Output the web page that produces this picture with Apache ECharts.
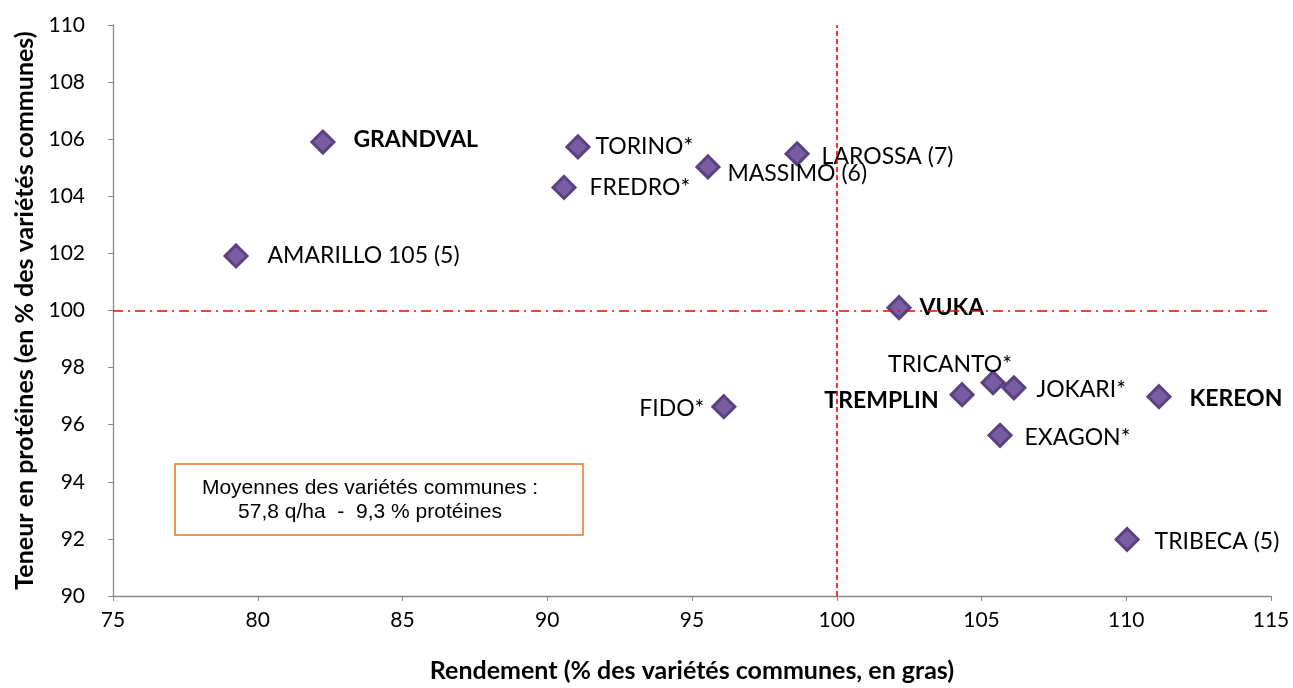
<!DOCTYPE html>
<html><head><meta charset="utf-8">
<script src="https://cdn.jsdelivr.net/npm/echarts@6/dist/echarts.min.js"></script>
<style>html,body{margin:0;padding:0;background:#fff}#c{width:1293px;height:688px}</style>
</head><body><div id="c"></div>
<script>
const names = ['GRANDVAL','TORINO*','MASSIMO (6)','LAROSSA (7)','FREDRO*','AMARILLO 105 (5)','VUKA','TRICANTO*','JOKARI*','TREMPLIN','KEREON','FIDO*','EXAGON*','TRIBECA (5)'];
const rendement = [82.25,91.06,95.55,98.63,90.58,79.25,102.15,105.4,106.12,104.33,111.13,96.1,105.64,110.03];
const proteines = [105.9,105.73,105.03,105.49,104.31,101.91,100.1,97.47,97.29,97.05,96.98,96.63,95.63,91.98];
const boldNames = ['GRANDVAL','VUKA','TREMPLIN','KEREON'];
const xTicks = [75,80,85,90,95,100,105,110,115];
const yTicks = [90,92,94,96,98,100,102,104,106,108,110];
const noteLines = ['Moyennes des variétés communes :','57,8 q/ha  -  9,3 % protéines'];

// label placement (layout only)
const labelLayout = {
  'GRANDVAL': {position:'right', distance:18, offset:[0,-2]},
  'TORINO*': {position:'right', distance:5, offset:[0,0]},
  'MASSIMO (6)': {position:'right', distance:7, offset:[0,7]},
  'LAROSSA (7)': {position:'right', distance:12, offset:[0,3]},
  'FREDRO*': {position:'right', distance:13, offset:[0,0]},
  'AMARILLO 105 (5)': {position:'right', distance:19, offset:[0,0]},
  'VUKA': {position:'right', distance:8, offset:[0,0]},
  'TRICANTO*': {position:'top', distance:8, offset:[-43,14]},
  'JOKARI*': {position:'right', distance:10, offset:[0,2]},
  'TREMPLIN': {position:'left', distance:11, offset:[0,6]},
  'KEREON': {position:'right', distance:18, offset:[0,2]},
  'FIDO*': {position:'left', distance:7, offset:[0,2]},
  'EXAGON*': {position:'right', distance:12, offset:[0,2]},
  'TRIBECA (5)': {position:'right', distance:15, offset:[0,2]}
};

const data = names.map((n,i)=>{
  const L = labelLayout[n];
  return {
    name:n, value:[rendement[i], proteines[i]],
    label:{show:true, formatter:n, position:L.position, distance:L.distance, offset:L.offset,
      color:'#000', fontFamily:'Lato', fontSize:23,
      fontWeight: boldNames.includes(n)?'bold':'normal'}
  };
});

const chart = echarts.init(document.getElementById('c'));
const FONT = 'Lato';
chart.setOption({
  animation:false,
  grid:{left:113, right:22, top:25, bottom:87},
  xAxis:{type:'value', min:xTicks[0], max:xTicks[xTicks.length-1], interval:5,
    name:'Rendement (% des variétés communes, en gras)', nameLocation:'middle', nameGap:62,
    nameTextStyle:{fontFamily:FONT, fontWeight:'bold', fontSize:25, color:'#000'},
    axisLine:{onZero:false, lineStyle:{color:'#888', width:1.3}},
    axisTick:{show:true, length:5, lineStyle:{color:'#888'}},
    axisLabel:{fontFamily:FONT, fontSize:21, color:'#000', margin:14},
    splitLine:{show:false}},
  yAxis:{type:'value', min:yTicks[0], max:yTicks[yTicks.length-1], interval:2,
    name:'Teneur en protéines (en % des variétés communes)', nameLocation:'middle', nameGap:70,
    nameTextStyle:{fontFamily:FONT, fontWeight:'bold', fontSize:25, color:'#000'},
    axisLine:{show:true, onZero:false, lineStyle:{color:'#888', width:1.3}},
    axisTick:{show:true, length:5, lineStyle:{color:'#888'}},
    axisLabel:{fontFamily:FONT, fontSize:21, color:'#000', margin:28},
    splitLine:{show:false}},
  series:[{
    type:'scatter', symbol:'diamond', symbolSize:22,
    itemStyle:{color:'#7A5CA3', borderColor:'#5A4182', borderWidth:3, opacity:1},
    label:{fontFamily:FONT, fontSize:23, color:'#000'},
    data:data,
    markLine:{silent:true, symbol:'none', label:{show:false},
      data:[
        {xAxis:100, lineStyle:{color:'#FF0000', type:[5,3], width:1.6}},
        {yAxis:100, lineStyle:{color:'#FF0000', type:[10,5,2,5], width:1.6}}
      ]},
    z:3
  }],
  graphic:[
    {type:'rect', x:175, y:464, shape:{width:408, height:71},
     style:{fill:'#fff', stroke:'#E87722', lineWidth:1.5}, z:1},
    {type:'text', x:370, y:500, z:2,
     style:{text:noteLines.join('\n'), fontFamily:'Liberation Sans', fontSize:21, lineHeight:24,
       fill:'#000', align:'center', verticalAlign:'middle'}}
  ]
});
</script></body></html>
